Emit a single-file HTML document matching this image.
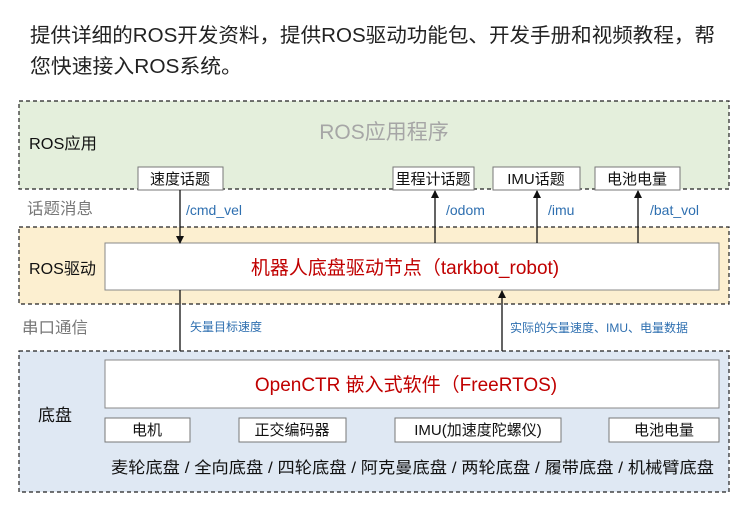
<!DOCTYPE html>
<html><head><meta charset="utf-8"><style>
body{margin:0;background:#fff;}
svg{display:block;font-family:"Liberation Sans","Noto Sans CJK SC",sans-serif;}
</style></head><body>
<svg width="750" height="520" viewBox="0 0 750 520">
<defs><marker id="ah" markerWidth="8" markerHeight="8" refX="7" refY="4" orient="auto" markerUnits="userSpaceOnUse"><path d="M0,0 L8,4 L0,8 z" fill="#111"/></marker></defs>
<text x="30" y="42" font-size="20" fill="#222" textLength="685" lengthAdjust="spacingAndGlyphs">提供详细的ROS开发资料，提供ROS驱动功能包、开发手册和视频教程，帮</text>
<text x="30" y="73" font-size="20" fill="#222" textLength="212" lengthAdjust="spacingAndGlyphs">您快速接入ROS系统。</text>
<rect x="19" y="101" width="710" height="88" fill="#e4efdc" stroke="#222" stroke-dasharray="4,3" stroke-width="1.2"/>
<text x="384" y="139" font-size="21" fill="#a6a6a6" text-anchor="middle">ROS应用程序</text>
<text x="29" y="149" font-size="16" fill="#111" textLength="68" lengthAdjust="spacingAndGlyphs">ROS应用</text>
<g font-size="15" fill="#111" text-anchor="middle">
<rect x="138" y="167" width="85" height="23" fill="#fff" stroke="#777"/><text x="180" y="184">速度话题</text>
<rect x="393" y="167" width="81" height="23" fill="#fff" stroke="#777"/><text x="433" y="184">里程计话题</text>
<rect x="493" y="167" width="87" height="23" fill="#fff" stroke="#777"/><text x="536" y="184">IMU话题</text>
<rect x="595" y="167" width="85" height="23" fill="#fff" stroke="#777"/><text x="637" y="184">电池电量</text>
</g>
<text x="27" y="214" font-size="16" fill="#777" textLength="66" lengthAdjust="spacingAndGlyphs">话题消息</text>
<g font-size="14" fill="#2e6fb0">
<text x="186" y="215">/cmd_vel</text><text x="446" y="215">/odom</text><text x="548" y="215">/imu</text><text x="650" y="215">/bat_vol</text>
</g>
<rect x="19" y="227" width="710" height="77" fill="#fcefd0" stroke="#222" stroke-dasharray="4,3" stroke-width="1.2"/>
<text x="29" y="274" font-size="16" fill="#111" textLength="67" lengthAdjust="spacingAndGlyphs">ROS驱动</text>
<rect x="105" y="243" width="614" height="47" fill="#fff" stroke="#888"/>
<text x="405" y="274" font-size="19" fill="#c00000" text-anchor="middle">机器人底盘驱动节点（tarkbot_robot)</text>
<g stroke="#111" stroke-width="1.3" marker-end="url(#ah)">
<line x1="180" y1="190" x2="180" y2="243"/>
<line x1="435" y1="243" x2="435" y2="191"/>
<line x1="537" y1="243" x2="537" y2="191"/>
<line x1="638" y1="243" x2="638" y2="191"/>
<line x1="180" y1="290" x2="180" y2="360"/>
<line x1="502" y1="360" x2="502" y2="291"/>
</g>
<text x="22" y="333" font-size="16" fill="#777" textLength="66" lengthAdjust="spacingAndGlyphs">串口通信</text>
<text x="190" y="331" font-size="12" fill="#2e6fb0">矢量目标速度</text>
<text x="510" y="332" font-size="12" fill="#2e6fb0">实际的矢量速度、IMU、电量数据</text>
<rect x="19" y="351" width="710" height="141" fill="#dfe8f3" stroke="#222" stroke-dasharray="4,3" stroke-width="1.2"/>
<rect x="105" y="360" width="614" height="48" fill="#fff" stroke="#888"/>
<text x="406" y="391" font-size="19" fill="#c00000" text-anchor="middle">OpenCTR 嵌入式软件（FreeRTOS)</text>
<text x="38" y="421" font-size="17" fill="#111">底盘</text>
<g font-size="15" fill="#111" text-anchor="middle">
<rect x="105" y="418" width="85" height="24" fill="#fff" stroke="#777"/><text x="147" y="435">电机</text>
<rect x="239" y="418" width="107" height="24" fill="#fff" stroke="#777"/><text x="292" y="435">正交编码器</text>
<rect x="395" y="418" width="166" height="24" fill="#fff" stroke="#777"/><text x="478" y="435">IMU(加速度陀螺仪)</text>
<rect x="609" y="418" width="110" height="24" fill="#fff" stroke="#777"/><text x="664" y="435">电池电量</text>
</g>
<text x="111" y="473" font-size="16" fill="#111" textLength="603" lengthAdjust="spacingAndGlyphs">麦轮底盘 / 全向底盘 / 四轮底盘 / 阿克曼底盘 / 两轮底盘 / 履带底盘 / 机械臂底盘</text>
</svg>
</body></html>
